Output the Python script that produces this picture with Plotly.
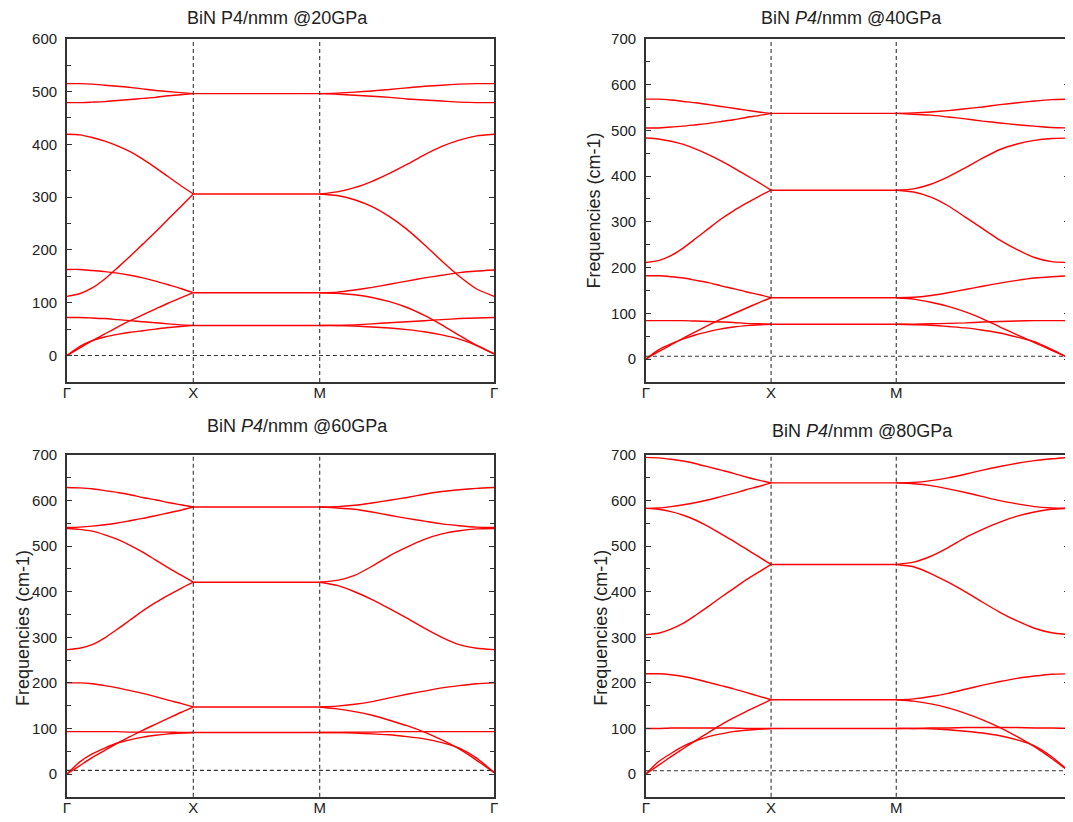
import plotly.graph_objects as go

# ---------------- data ----------------
K_LABELS = ["Γ", "X", "M", "Γ"]
K_POS = [0.0, 1.0, 2.0, 3.38]           # path coordinate of the high-symmetry points
FRAC = [0.0, 0.1, 0.2, 0.3, 0.4, 0.5, 0.6, 0.7, 0.8, 0.9, 1.0]

TITLES = ["BiN P4/nmm @20GPa", "BiN <i>P4</i>/nmm @40GPa",
          "BiN <i>P4</i>/nmm @60GPa", "BiN <i>P4</i>/nmm @80GPa"]
Y_MAX = [600, 700, 700, 700]
Y_MIN = -50
ZERO_LEVEL = [0, 6, 8, 7]                # dashed reference line level

# 20 GPa  (Γ→X, X–M, M→Γ)
GX_20 = [[515, 515, 514, 512, 510, 508, 505, 502, 500, 498, 496],
         [479, 479, 480, 481, 483, 485, 487, 489, 492, 494, 496],
         [419, 418, 413, 406, 397, 386, 372, 356, 339, 322, 306],
         [112, 117, 128, 145, 166, 188, 211, 234, 258, 282, 306],
         [163, 163, 161, 159, 156, 152, 147, 141, 134, 127, 119],
         [0, 14, 28, 41, 54, 66, 77, 88, 99, 109, 119],
         [72, 72, 71, 70, 68, 66, 64, 62, 60, 58, 57],
         [0, 17, 28, 35, 40, 44, 47, 50, 53, 55, 57]]
XM_20 = [496, 306, 119, 57]
MG_20 = [[496, 497, 499, 501, 504, 507, 510, 512, 514, 515, 515],
         [496, 495, 493, 491, 489, 486, 484, 482, 480, 479, 479],
         [306, 310, 318, 330, 345, 362, 380, 396, 408, 416, 419],
         [306, 303, 295, 282, 263, 239, 210, 179, 150, 126, 112],
         [119, 120, 124, 129, 135, 141, 147, 152, 157, 160, 162],
         [119, 118, 115, 110, 102, 91, 76, 58, 38, 19, 3],
         [57, 57, 58, 60, 62, 64, 66, 68, 70, 71, 72],
         [57, 57, 56, 54, 52, 49, 45, 39, 31, 19, 3]]

# 40 GPa
GX_40 = [[568, 568, 566, 563, 560, 556, 552, 548, 544, 540, 537],
         [505, 505, 507, 509, 512, 515, 519, 523, 528, 532, 537],
         [483, 481, 476, 469, 459, 447, 433, 418, 402, 386, 369],
         [211, 215, 226, 243, 264, 285, 306, 324, 340, 355, 369],
         [182, 182, 180, 177, 172, 167, 160, 154, 147, 141, 134],
         [0, 16, 31, 46, 60, 74, 87, 99, 111, 123, 134],
         [84, 84, 84, 84, 83, 82, 81, 80, 78, 77, 76],
         [0, 20, 33, 44, 53, 60, 66, 70, 73, 75, 76]]
XM_40 = [537, 369, 134, 76]
MG_40 = [[537, 538, 540, 543, 547, 551, 556, 560, 564, 567, 568],
         [537, 535, 533, 529, 525, 520, 516, 512, 509, 506, 505],
         [369, 372, 382, 398, 418, 439, 458, 470, 478, 482, 483],
         [369, 365, 354, 335, 310, 285, 260, 239, 222, 213, 211],
         [134, 135, 139, 145, 152, 159, 166, 172, 177, 180, 182],
         [134, 131, 124, 115, 103, 88, 70, 53, 36, 19, 2],
         [76, 76, 77, 78, 79, 81, 82, 83, 84, 84, 84],
         [76, 75, 74, 71, 68, 63, 57, 48, 38, 21, 2]]

# 60 GPa
GX_60 = [[629, 628, 626, 622, 618, 613, 607, 602, 596, 591, 586],
         [541, 542, 544, 547, 551, 556, 561, 567, 573, 579, 586],
         [539, 537, 533, 525, 515, 502, 487, 470, 453, 437, 421],
         [273, 276, 284, 299, 318, 338, 358, 376, 392, 407, 421],
         [200, 200, 198, 194, 189, 183, 177, 170, 162, 155, 147],
         [0, 18, 36, 52, 68, 82, 96, 109, 122, 135, 147],
         [93, 93, 93, 93, 93, 92, 92, 92, 92, 91, 91],
         [0, 26, 44, 57, 68, 75, 81, 85, 88, 90, 91]]
XM_60 = [586, 421, 147, 91]
MG_60 = [[586, 587, 590, 595, 601, 607, 614, 620, 624, 627, 629],
         [586, 584, 581, 575, 568, 561, 555, 549, 545, 542, 541],
         [421, 425, 436, 456, 479, 498, 515, 527, 534, 538, 539],
         [421, 414, 400, 383, 363, 342, 320, 300, 284, 276, 273],
         [147, 149, 153, 159, 167, 175, 182, 189, 194, 198, 200],
         [147, 143, 137, 129, 118, 106, 92, 75, 55, 30, 3],
         [91, 91, 92, 92, 93, 93, 93, 93, 93, 93, 93],
         [91, 91, 90, 88, 86, 82, 77, 69, 57, 35, 3]]

# 80 GPa
GX_80 = [[695, 694, 691, 687, 681, 674, 667, 660, 652, 645, 639],
         [583, 584, 587, 591, 596, 602, 609, 616, 624, 631, 639],
         [583, 581, 576, 568, 557, 543, 527, 511, 494, 477, 460],
         [306, 309, 318, 331, 349, 368, 388, 407, 426, 443, 460],
         [220, 220, 218, 214, 208, 201, 194, 187, 179, 171, 163],
         [0, 19, 38, 56, 74, 91, 108, 123, 137, 150, 163],
         [100, 100, 101, 101, 101, 101, 101, 101, 100, 100, 100],
         [0, 27, 45, 61, 73, 82, 88, 93, 96, 98, 100]]
XM_80 = [639, 460, 163, 100]
MG_80 = [[639, 640, 644, 650, 658, 667, 675, 682, 688, 692, 695],
         [639, 637, 633, 626, 618, 609, 600, 593, 587, 584, 583],
         [460, 465, 478, 497, 519, 537, 553, 566, 575, 581, 583],
         [460, 455, 440, 421, 400, 377, 355, 336, 320, 310, 306],
         [163, 165, 170, 177, 186, 195, 203, 210, 215, 219, 220],
         [163, 160, 154, 145, 133, 119, 102, 82, 60, 34, 6],
         [100, 100, 101, 101, 102, 102, 102, 102, 101, 101, 100],
         [100, 100, 99, 97, 94, 90, 84, 75, 62, 38, 6]]

BANDS = [(GX_20, XM_20, MG_20), (GX_40, XM_40, MG_40),
         (GX_60, XM_60, MG_60), (GX_80, XM_80, MG_80)]

# ---------------- layout geometry ----------------
REF_W, REF_H = 1073, 822
OFF = 8                                   # page body margin
W, H = REF_W - OFF, REF_H - OFF


def px(rx):
    return (rx - OFF) / W


def py(ry):
    return 1 - (ry - OFF) / H


TOP_T, TOP_B = 30, 377        # top-row plot area (page px)
BOT_T, BOT_B = 451, 796.5     # bottom-row plot area (page px)
X_DOM = [[px(63.3), px(493.8)], [px(646.7), 1.0],
         [px(63.3), px(493.8)], [px(646.7), 1.0]]
Y_DOM = [[py(TOP_B), py(TOP_T)], [py(TOP_B), py(TOP_T)],
         [py(BOT_B), py(BOT_T)], [py(BOT_B), py(BOT_T)]]
TITLE_POS = [(276, 9.5), (854, 9.5), (296, 422), (865, 427)]
YTITLE_POS = [None, (594, 204), (19, 626), (602, 626)]

FONT = "Liberation Sans, Arial, sans-serif"
AXC = "#333333"
TXT = "#222222"

fig = go.Figure()

for i, (gx, xm, mg) in enumerate(BANDS):
    xs, ys = [], []
    for band in gx:
        xs += [K_POS[0] + f * (K_POS[1] - K_POS[0]) for f in FRAC] + [None]
        ys += list(band) + [None]
    for v in xm:
        xs += [K_POS[1], K_POS[2], None]
        ys += [v, v, None]
    for band in mg:
        xs += [K_POS[2] + f * (K_POS[3] - K_POS[2]) for f in FRAC] + [None]
        ys += list(band) + [None]
    sfx = "" if i == 0 else str(i + 1)
    fig.add_trace(go.Scatter(
        x=xs, y=ys, mode="lines", xaxis="x" + sfx, yaxis="y" + sfx,
        line=dict(color="#ff0000", width=1.4, shape="spline", smoothing=0.6),
        connectgaps=False, showlegend=False, hoverinfo="skip"))

    xk = "xaxis" + sfx
    yk = "yaxis" + sfx
    fig.layout[xk] = dict(
        domain=X_DOM[i], range=[K_POS[0], K_POS[3]], anchor="y" + sfx,
        tickmode="array", tickvals=K_POS, ticktext=K_LABELS, ticks="",
        ticklabelstandoff=-4,
        showline=True, mirror=True, linecolor=AXC, linewidth=1.6,
        showgrid=False, zeroline=False,
        tickfont=dict(family=FONT, size=15, color=TXT))
    fig.layout[yk] = dict(
        domain=Y_DOM[i], range=[Y_MIN, Y_MAX[i]], anchor="x" + sfx,
        tickmode="linear", tick0=0, dtick=100,
        ticks="inside", ticklen=5, tickwidth=1.2, tickcolor=AXC,
        minor=dict(dtick=50, tick0=0, ticks="inside", ticklen=4,
                   tickwidth=1.2, tickcolor=AXC),
        showline=True, mirror="ticks", linecolor=AXC, linewidth=1.6,
        showgrid=False, zeroline=False, ticklabelstandoff=5,
        tickfont=dict(family=FONT, size=15, color=TXT))

    # dashed guide lines at X and M, and near zero frequency
    for kp in K_POS[1:3]:
        fig.add_shape(type="line", xref="x" + sfx, yref="y" + sfx + " domain",
                      x0=kp, x1=kp, y0=0, y1=1,
                      line=dict(color="#333", width=1.1, dash="4px,3px"))
    fig.add_shape(type="line", xref="x" + sfx + " domain", yref="y" + sfx,
                  x0=0, x1=1, y0=ZERO_LEVEL[i], y1=ZERO_LEVEL[i],
                  line=dict(color="#333", width=1.1, dash="4px,3px"))

    tx, ty = TITLE_POS[i]
    fig.add_annotation(text=TITLES[i], xref="paper", yref="paper",
                       x=px(tx), y=py(ty), showarrow=False,
                       xanchor="center", yanchor="middle",
                       font=dict(family=FONT, size=18, color=TXT))
    if YTITLE_POS[i] is not None:
        ax_, ay_ = YTITLE_POS[i]
        fig.add_annotation(text="Frequencies (cm-1)", xref="paper", yref="paper",
                           x=px(ax_), y=py(ay_), showarrow=False, textangle=-90,
                           xanchor="center", yanchor="middle",
                           font=dict(family=FONT, size=18, color=TXT))

fig.update_layout(width=W, height=H, margin=dict(l=0, r=0, t=0, b=0),
                  paper_bgcolor="white", plot_bgcolor="white")

fig.write_html("out.html")
